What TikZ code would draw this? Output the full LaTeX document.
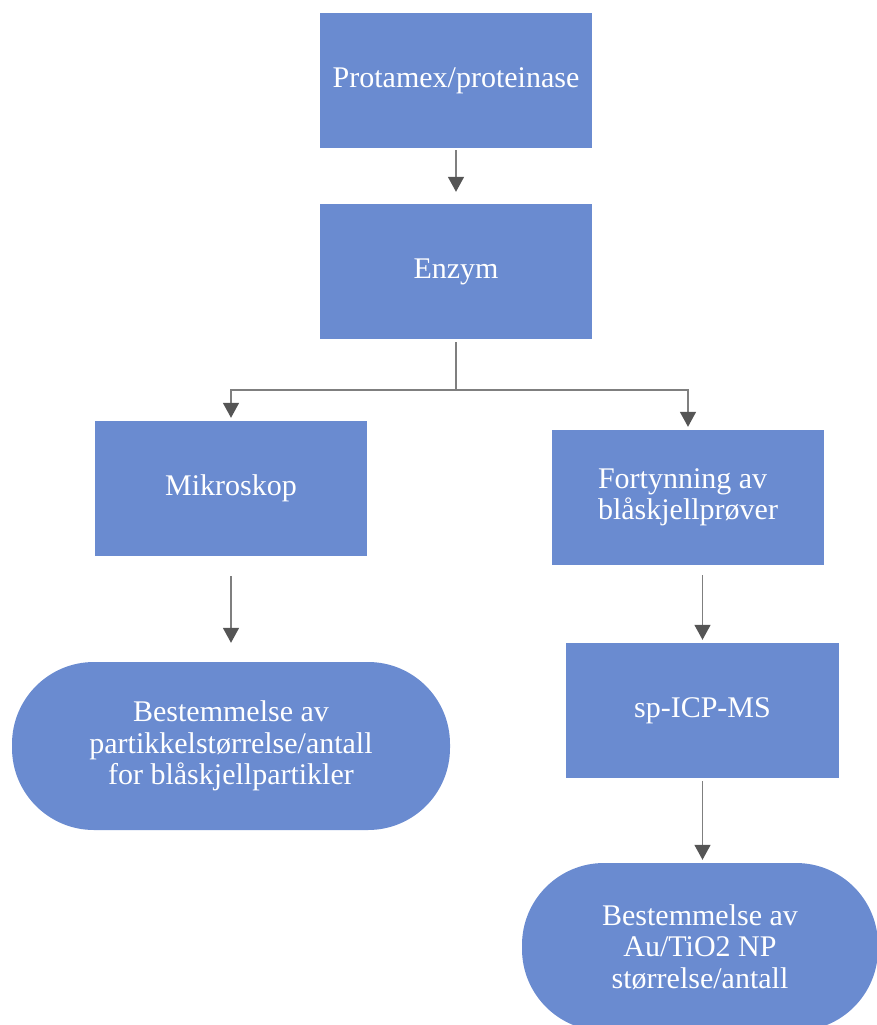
\documentclass[tikz,border=0pt]{standalone}
\usepackage{fontspec}
\setmainfont{Liberation Serif}
\usepackage{tikz}
\usetikzlibrary{arrows.meta}
\definecolor{boxblue}{HTML}{6A8BD0}
\definecolor{linegray}{HTML}{7F7F7F}
\definecolor{tipgray}{HTML}{555555}
\tikzset{
  stepbox/.style={rectangle,fill=boxblue,text=white,inner sep=0pt,
    minimum width=272pt,minimum height=135pt,align=center,
    font=\fontsize{30}{31.5}\selectfont},
  endbox/.style={stepbox,rounded corners=82pt,minimum height=168pt},
  arr/.style={draw=linegray,line width=1.5pt,
    -{Triangle[width=16pt,length=15pt,color=tipgray]}}
}
\begin{document}
\begin{tikzpicture}[x=1pt,y=-1pt]

\clip (0,0) rectangle (877,1025);

\node[stepbox] (prot) at (456,80.5) {Protamex/proteinase};
\node[stepbox] (enz) at (456,271.5) {Enzym};
\node[stepbox] (mik) at (231,488.5) {Mikroskop};
\node[stepbox,align=left] (fort) at (688,497.5) {Fortynning av\\blåskjellprøver};
\node[stepbox,minimum width=273pt] (sp) at (702.5,710.5) {sp-ICP-MS};
\node[endbox,minimum width=438pt] (res1) at (231,746)
  {Bestemmelse av\\partikkelstørrelse/antall\\for blåskjellpartikler};
\node[endbox,minimum width=356pt] (res2) at (700,947)
  {Bestemmelse av\\Au/TiO2 NP\\størrelse/antall};

\coordinate (split) at (456,390);

\draw[arr,shorten <=2pt,shorten >=12pt] (prot) -- (enz);
\draw[draw=linegray,line width=1.5pt,shorten <=3pt] (enz.south) -- (split);
\draw[arr,shorten >=3pt] (split) -| (mik.north);
\draw[arr,shorten >=3pt] (split) -| (fort.north);
\draw[arr,shorten <=20pt,shorten >=19pt] (mik.south) -- (res1.north);
\draw[arr,shorten <=10pt,shorten >=3pt] (fort.south -| sp.north) -- (sp.north);
\draw[arr,shorten <=3pt,shorten >=3pt] (sp.south) -- (sp.south |- res2.north);
\end{tikzpicture}
\end{document}
